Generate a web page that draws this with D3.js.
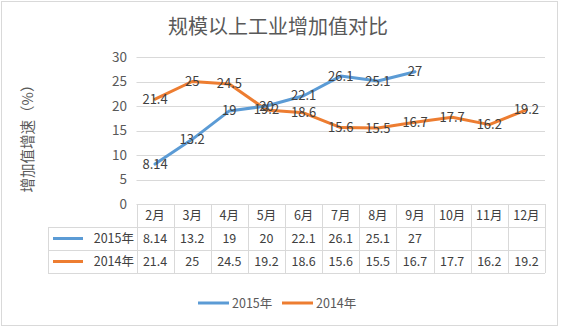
<!DOCTYPE html>
<html><head><meta charset="utf-8">
<script src="https://cdn.jsdelivr.net/npm/d3@7"></script>
<style>body{margin:0;background:#fff;}svg{display:block;}text{font-family:"Noto Sans CJK SC","Noto Sans",sans-serif;}</style>
</head><body>
<script>
const title = "规模以上工业增加值对比";
const yTitle = "增加值增速（%）";
const months = ["2月","3月","4月","5月","6月","7月","8月","9月","10月","11月","12月"];
const yTicks = [0,5,10,15,20,25,30];
const seriesNames = ["2015年","2014年"];
const values2015 = [8.14,13.2,19,20,22.1,26.1,25.1,27,null,null,null];
const values2014 = [21.4,25,24.5,19.2,18.6,15.6,15.5,16.7,17.7,16.2,19.2];
const colors = ["#5b9bd5","#ed7d31"];

const W=561,H=328;
const svg=d3.select("body").append("svg").attr("width",W).attr("height",H);
svg.append("rect").attr("x",1.5).attr("y",1.5).attr("width",556).attr("height",324).attr("fill","#fff").attr("stroke","#d9d9d9");

const x=d3.scaleBand().domain(months).range([136.5,545]).padding(0);
const y=d3.scaleLinear().domain([0,30]).range([204,57]);

svg.append("text").attr("x",278).attr("y",34).attr("text-anchor","middle").attr("font-size",20).attr("fill","#595959").text(title);

// y axis labels
const yAxis=d3.axisLeft(y).tickValues(yTicks).tickSize(0).tickPadding(0);
const gAx=svg.append("g").attr("transform","translate(127,0)").call(yAxis);
gAx.select(".domain").remove();
gAx.selectAll("text").attr("font-size",13.5).attr("fill","#595959").attr("font-family","Noto Sans CJK SC");
// gridlines
svg.append("g").selectAll("line").data(yTicks.filter(d=>d>0)).join("line")
  .attr("x1",136.5).attr("x2",545).attr("y1",d=>Math.round(y(d))+0.5).attr("y2",d=>Math.round(y(d))+0.5)
  .attr("stroke","#d9d9d9").attr("stroke-width",1);

svg.append("text").attr("transform","translate(33,135) rotate(-90)").attr("text-anchor","middle")
  .attr("font-size",14.5).attr("fill","#595959").text(yTitle);

// lines
const all=[values2015,values2014];
const line=d3.line().defined(d=>d!=null).x((d,i)=>x(months[i])+x.bandwidth()/2).y(d=>y(d));
[1,0].forEach(k=>{
  svg.append("path").datum(all[k]).attr("d",line).attr("fill","none").attr("stroke",colors[k])
    .attr("stroke-width",3).attr("stroke-linejoin","round").attr("stroke-linecap","round");
});
// data labels
all.forEach((vals,k)=>{
  svg.append("g").selectAll("text").data(vals.map((v,i)=>({v,i})).filter(d=>d.v!=null)).join("text")
    .attr("x",d=>x(months[d.i])+x.bandwidth()/2).attr("y",d=>y(d.v)+4.5)
    .attr("text-anchor","middle").attr("font-size",13).attr("fill","#404040").text(d=>d.v);
});

// data table
const rowsY=[204,227,250,273];
const tb=svg.append("g");
const gridC="#d9d9d9";
tb.append("line").attr("x1",136.5).attr("x2",545).attr("y1",204.5).attr("y2",204.5).attr("stroke",gridC);
[227,250,273].forEach(yy=>tb.append("line").attr("x1",48).attr("x2",545).attr("y1",yy+0.5).attr("y2",yy+0.5).attr("stroke",gridC));
months.forEach(m=>tb.append("line").attr("x1",Math.round(x(m))+0.5).attr("x2",Math.round(x(m))+0.5).attr("y1",204).attr("y2",273).attr("stroke",gridC));
tb.append("line").attr("x1",545.5).attr("x2",545.5).attr("y1",204).attr("y2",273).attr("stroke",gridC);
tb.append("line").attr("x1",48.5).attr("x2",48.5).attr("y1",227).attr("y2",273).attr("stroke",gridC);
tb.selectAll("text.m").data(months).join("text").attr("class","m")
  .attr("x",d=>x(d)+x.bandwidth()/2).attr("y",220).attr("text-anchor","middle").attr("font-size",12.5).attr("fill","#404040").text(d=>d);
all.forEach((vals,k)=>{
  const cy=rowsY[k+1]+16;
  tb.append("line").attr("x1",53).attr("x2",83).attr("y1",cy-4.5).attr("y2",cy-4.5).attr("stroke",colors[k]).attr("stroke-width",3);
  tb.append("text").attr("x",134).attr("y",cy).attr("text-anchor","end").attr("font-size",12.5).attr("fill","#404040").text(seriesNames[k]);
  tb.append("g").selectAll("text").data(vals.map((v,i)=>({v,i})).filter(d=>d.v!=null)).join("text")
    .attr("x",d=>x(months[d.i])+x.bandwidth()/2).attr("y",cy).attr("text-anchor","middle").attr("font-size",12.5).attr("fill","#404040").text(d=>d.v);
});

// legend
const lg=[{x:198,name:seriesNames[0],c:colors[0]},{x:282,name:seriesNames[1],c:colors[1]}];
lg.forEach(d=>{
  svg.append("line").attr("x1",d.x).attr("x2",d.x+31).attr("y1",303).attr("y2",303).attr("stroke",d.c).attr("stroke-width",3);
  svg.append("text").attr("x",d.x+34).attr("y",307.5).attr("font-size",12.5).attr("fill","#595959").text(d.name);
});
</script>
</body></html>
